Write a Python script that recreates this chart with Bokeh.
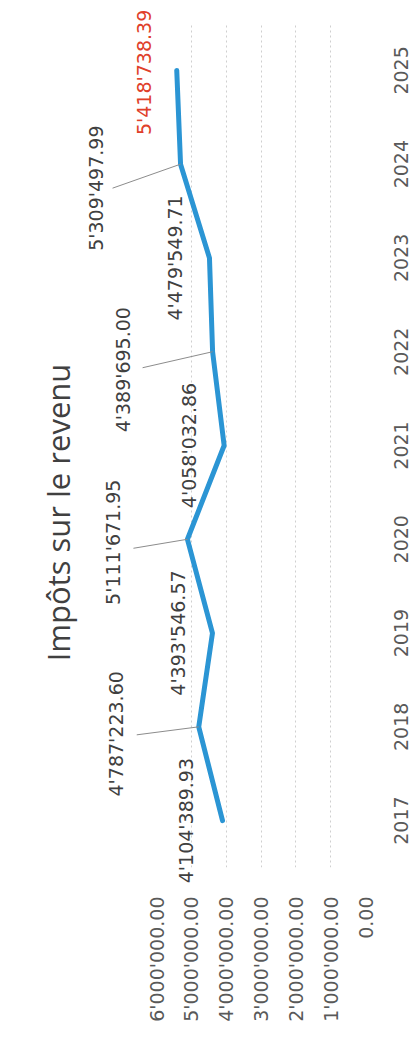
import math
from bokeh.plotting import figure
from bokeh.models import Range1d, FixedTicker, ColumnDataSource
from bokeh.core.properties import value
from bokeh.embed import file_html
from bokeh.resources import INLINE

# ---------------- data ----------------
TITLE = "Impôts sur le revenu"
YEARS = [2017, 2018, 2019, 2020, 2021, 2022, 2023, 2024, 2025]
VALUES = [4104389.93, 4787223.60, 4393546.57, 5111671.95, 4058032.86,
          4389695.00, 4479549.71, 5309497.99, 5418738.39]
VALUE_TICKS = [0, 1000000, 2000000, 3000000, 4000000, 5000000, 6000000]
VALUE_TICK_LABELS = ["0.00", "1'000'000.00", "2'000'000.00", "3'000'000.00",
                     "4'000'000.00", "5'000'000.00", "6'000'000.00"]
YEAR_LABELS = [str(y) for y in YEARS]


def fmt(v):
    return f"{v:,.2f}".replace(",", "'")


LABELS = [fmt(v) for v in VALUES]

# ---------------- style / layout ----------------
FONT = "DejaVu Sans"
TEXT = "#404040"
AXIS_TEXT = "#595959"
RED = "#e0402a"
BLUE = "#2b95d4"
FRAME_W, FRAME_H = 209, 844
X_START, X_END = 6000000, 0
Y_START, Y_END = 2016.5, 2025.5

# label offsets from the point, in screen pixels (dx right, dy down)
LABEL_DX = [-37, -83, -34, -74, -35, -90, -34, -85, -33]
LABEL_DY = [0, 7, 0, 3, 0, 18, 0, 24, 2]
# leader line ends (None = no leader)
LEADER_DX = [None, -62, None, -54, None, -70, None, -68, None]
LEADER_DY = [None, 8, None, 9, None, 16, None, 24, None]
LABEL_COLORS = [TEXT] * (len(VALUES) - 1) + [RED]
YEAR_LABEL_DX = 35      # px to the right of the value-0 edge
TITLE_DX = 99           # px to the left of the 6M edge
TITLE_DY = 489          # px below the top of the frame

VPP = (X_START - X_END) / FRAME_W     # value units per pixel (leftwards = up)
YPP = (Y_END - Y_START) / FRAME_H     # year units per pixel (upwards)

lx = [v - dx * VPP for v, dx in zip(VALUES, LABEL_DX)]
ly = [y - dy * YPP for y, dy in zip(YEARS, LABEL_DY)]

seg_x0, seg_y0, seg_x1, seg_y1 = [], [], [], []
for v, y, dx, dy in zip(VALUES, YEARS, LEADER_DX, LEADER_DY):
    if dx is None:
        continue
    seg_x0.append(v)
    seg_y0.append(y)
    seg_x1.append(v - dx * VPP)
    seg_y1.append(y - dy * YPP)

p = figure(frame_width=FRAME_W, frame_height=FRAME_H,
           x_range=Range1d(X_START, X_END), y_range=Range1d(Y_START, Y_END),
           output_backend="svg", toolbar_location=None,
           x_axis_location="below", y_axis_location=None,
           min_border_left=156, min_border_right=48,
           min_border_top=23, min_border_bottom=170,
           background_fill_color="white", border_fill_color="white",
           outline_line_color=None)

# value axis (bottom)
xa = p.xaxis[0]
xa.ticker = FixedTicker(ticks=VALUE_TICKS)
xa.major_label_overrides = dict(zip(VALUE_TICKS, VALUE_TICK_LABELS))
xa.axis_line_color = None
xa.major_tick_line_color = None
xa.minor_tick_line_color = None
xa.major_label_orientation = math.pi / 2
xa.major_label_standoff = 23
xa.major_label_text_font = FONT
xa.major_label_text_font_size = "19px"
xa.major_label_text_color = AXIS_TEXT

p.xgrid.ticker = FixedTicker(ticks=VALUE_TICKS)
p.xgrid.grid_line_color = "#cfcfcf"
p.xgrid.grid_line_dash = "2 3"
p.xgrid.grid_line_width = 1
p.ygrid.grid_line_color = None

src = ColumnDataSource(dict(value=VALUES, year=YEARS))
p.line(x="value", y="year", source=src, line_color=BLUE, line_width=5,
       line_cap="round", line_join="round")

p.segment(x0=seg_x0, y0=seg_y0, x1=seg_x1, y1=seg_y1,
          line_color="#8c8c8c", line_width=1, level="overlay")

lab = ColumnDataSource(dict(x=lx, y=ly, text=LABELS, color=LABEL_COLORS))
p.text(x="x", y="y", text="text", source=lab, angle=math.pi / 2,
       text_align="center", text_baseline="alphabetic",
       text_font=value(FONT), text_font_size="19px", text_color="color",
       level="overlay")

# category (year) labels along the value-0 edge
ysrc = ColumnDataSource(dict(x=[X_END - YEAR_LABEL_DX * VPP] * len(YEARS),
                             y=YEARS, text=YEAR_LABELS))
p.text(x="x", y="y", text="text", source=ysrc, angle=math.pi / 2,
       text_align="center", text_baseline="middle",
       text_font=value(FONT), text_font_size="19px", text_color=AXIS_TEXT,
       level="overlay")

# chart title, rotated with the chart
tsrc = ColumnDataSource(dict(x=[X_START + TITLE_DX * VPP],
                             y=[Y_END - TITLE_DY * YPP], text=[TITLE]))
p.text(x="x", y="y", text="text", source=tsrc, angle=math.pi / 2,
       text_align="center", text_baseline="middle",
       text_font=value("Open Sans"), text_font_size="31px",
       text_color=TEXT, level="overlay")

open("out.html", "w").write(file_html(p, INLINE))
